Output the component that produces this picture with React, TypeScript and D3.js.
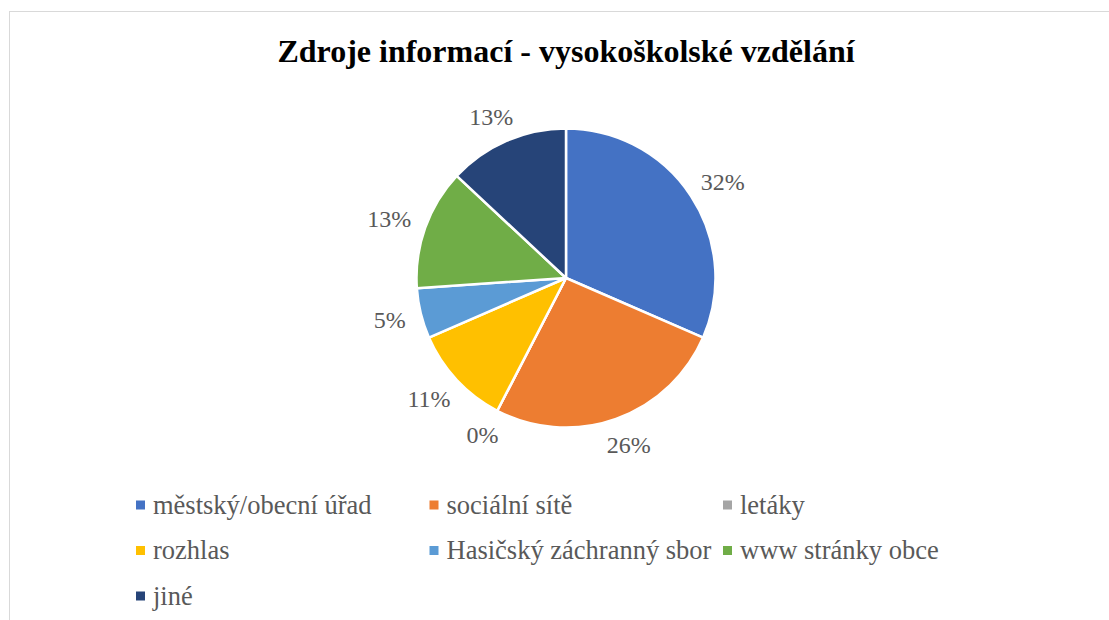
import React, { useEffect, useRef } from "react";
import * as d3 from "d3";

const title = "Zdroje informací - vysokoškolské vzdělání";
const categories = [
  "městský/obecní úřad",
  "sociální sítě",
  "letáky",
  "rozhlas",
  "Hasičský záchranný sbor",
  "www stránky obce",
  "jiné",
];
const counts = [29, 24, 0, 10, 5, 12, 12];
const colors = ["#4472C4", "#ED7D31", "#A5A5A5", "#FFC000", "#5B9BD5", "#70AD47", "#264478"];

const W = 1109;
const H = 620;
const cx = 566;
const cy = 278;
const R = 149.5;
const FONT = "Liberation Serif";

export default function App() {
  const ref = useRef<SVGSVGElement>(null);
  useEffect(() => {
    if (!ref.current) return;
    d3.select(ref.current)
      .selectAll<SVGTextElement, unknown>("text")
      .each(function () {
        this.style.setProperty("font-family", "'Liberation Serif', serif", "important");
      });
  }, []);

  const total = d3.sum(counts);
  const pie = d3.pie<number>().value((d) => d).sort(null)(counts);
  const arc = d3.arc<d3.PieArcDatum<number>>().innerRadius(0).outerRadius(R);
  const fmt = (v: number) => `${Math.round((v / total) * 100)}%`;
  const labelSize = 24;

  return (
    <svg ref={ref} width={W} height={H} style={{ position: "absolute", left: 0, top: 0 }}>
      <rect x={9.5} y={11.5} width={W + 10} height={H + 10} fill="#fff" stroke="#d9d9d9" strokeWidth={1} />
      <text x={cx} y={62} textAnchor="middle" fontFamily={FONT} fontWeight="bold" fontSize={32} fill="#000">
        {title}
      </text>
      <g transform={`translate(${cx},${cy})`}>
        {pie.map((p, i) => (
          <path key={i} d={arc(p) || ""} fill={colors[i]} stroke="#fff" strokeWidth={2.5} strokeLinejoin="round" />
        ))}
        {pie.map((p, i) => {
          const a = (p.startAngle + p.endAngle) / 2;
          const s = Math.sin(a);
          const c = -Math.cos(a);
          const label = fmt(p.value);
          const w = ((label.length - 1) * 0.5 + 0.833) * labelSize;
          const h = labelSize * 0.9;
          const d = R + 16;
          const x = s * d + (w / 2) * s;
          const y = c * d + (h / 2) * c;
          return (
            <text key={"l" + i} x={x} y={y} dy="0.35em" textAnchor="middle" fontFamily={FONT} fontSize={labelSize} fill="#595959">
              {label}
            </text>
          );
        })}
      </g>
      <g>
        {categories.map((cat, i) => {
          const col = i % 3;
          const row = Math.floor(i / 3);
          const x = 136 + col * 293.5;
          const y = 505 + row * 45.5;
          return (
            <g key={cat} transform={`translate(${x},${y})`}>
              <rect x={0} y={-4.5} width={9} height={9} fill={colors[i]} />
              <text x={17} y={8.5} fontFamily={FONT} fontSize={26.5} fill="#595959">
                {cat}
              </text>
            </g>
          );
        })}
      </g>
    </svg>
  );
}
